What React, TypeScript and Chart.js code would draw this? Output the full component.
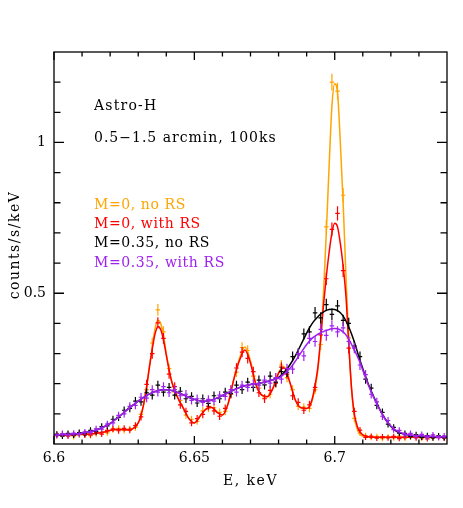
import React, { useEffect, useRef } from "react";
import { Chart, registerables } from "chart.js";

Chart.register(...registerables);

// ---------- data ----------
const MODEL_E = [
  6.600, 6.605, 6.610, 6.614, 6.618,
  6.620, 6.622, 6.624, 6.626, 6.628, 6.630,
  6.631, 6.632, 6.633, 6.634, 6.635, 6.636, 6.637, 6.638, 6.639, 6.640, 6.641,
  6.642, 6.644, 6.646, 6.648, 6.650, 6.652, 6.654, 6.656, 6.658, 6.660, 6.662, 6.664, 6.666, 6.668, 6.670, 6.672, 6.674, 6.676, 6.678, 6.680, 6.682, 6.684, 6.686, 6.688, 6.690,
  6.691, 6.692, 6.693, 6.694, 6.695, 6.696, 6.697, 6.698, 6.699, 6.700, 6.701, 6.702, 6.703, 6.704, 6.705, 6.706, 6.707, 6.708, 6.709, 6.710,
  6.712, 6.714, 6.716, 6.718, 6.720, 6.722,
  6.725, 6.730, 6.735, 6.740,
];

const ORANGE_MODEL = [
  0.030, 0.030, 0.032, 0.034, 0.040,
  0.045, 0.048, 0.048, 0.047, 0.050, 0.070,
  0.095, 0.135, 0.190, 0.258, 0.322, 0.382, 0.410, 0.400, 0.360, 0.300, 0.248,
  0.205, 0.155, 0.120, 0.085, 0.070, 0.092, 0.115, 0.122, 0.106, 0.096, 0.133, 0.214, 0.282, 0.322, 0.275, 0.197, 0.162, 0.157, 0.185, 0.237, 0.256, 0.205, 0.145, 0.120, 0.118,
  0.122, 0.145, 0.185, 0.245, 0.345, 0.500, 0.700, 0.920, 1.120, 1.195, 1.165, 1.000, 0.800, 0.560, 0.340, 0.180, 0.090, 0.050, 0.032, 0.026,
  0.023, 0.022, 0.022, 0.022, 0.022, 0.022,
  0.022, 0.022, 0.022, 0.022,
];

const RED_MODEL = [
  0.030, 0.030, 0.032, 0.034, 0.040,
  0.045, 0.048, 0.048, 0.047, 0.050, 0.070,
  0.095, 0.135, 0.190, 0.255, 0.315, 0.365, 0.390, 0.380, 0.345, 0.295, 0.245,
  0.205, 0.155, 0.120, 0.085, 0.070, 0.092, 0.115, 0.122, 0.106, 0.096, 0.133, 0.212, 0.275, 0.312, 0.268, 0.195, 0.162, 0.157, 0.185, 0.235, 0.252, 0.205, 0.145, 0.120, 0.118,
  0.125, 0.150, 0.195, 0.255, 0.350, 0.460, 0.555, 0.635, 0.700, 0.732, 0.720, 0.665, 0.590, 0.490, 0.330, 0.185, 0.100, 0.060, 0.040, 0.030,
  0.024, 0.022, 0.022, 0.022, 0.022, 0.022,
  0.022, 0.022, 0.022, 0.022,
];

const BLACK_MODEL = [
  0.030, 0.032, 0.036, 0.043, 0.058,
  0.068, 0.082, 0.097, 0.113, 0.128, 0.142,
  0.149, 0.155, 0.161, 0.166, 0.170, 0.174, 0.177, 0.179, 0.180, 0.180, 0.179,
  0.177, 0.171, 0.163, 0.155, 0.148, 0.143, 0.142, 0.145, 0.152, 0.161, 0.170, 0.179, 0.187, 0.193, 0.197, 0.200, 0.203, 0.207, 0.213, 0.221, 0.238, 0.262, 0.293, 0.330, 0.368,
  0.385, 0.400, 0.412, 0.422, 0.431, 0.438, 0.443, 0.446, 0.447, 0.446, 0.442, 0.435, 0.424, 0.408, 0.388, 0.365, 0.338, 0.308, 0.278, 0.250,
  0.198, 0.155, 0.116, 0.083, 0.058, 0.042,
  0.032, 0.026, 0.024, 0.023,
];

const PURPLE_MODEL = [
  0.030, 0.032, 0.036, 0.043, 0.058,
  0.068, 0.082, 0.097, 0.113, 0.128, 0.142,
  0.149, 0.155, 0.161, 0.166, 0.170, 0.174, 0.177, 0.179, 0.180, 0.180, 0.179,
  0.177, 0.171, 0.163, 0.155, 0.148, 0.143, 0.142, 0.145, 0.152, 0.161, 0.170, 0.179, 0.187, 0.193, 0.197, 0.200, 0.203, 0.207, 0.213, 0.218, 0.232, 0.250, 0.275, 0.303, 0.330,
  0.341, 0.351, 0.358, 0.364, 0.369, 0.373, 0.377, 0.380, 0.382, 0.383, 0.382, 0.378, 0.372, 0.362, 0.348, 0.330, 0.312, 0.292, 0.270, 0.245,
  0.195, 0.152, 0.114, 0.082, 0.060, 0.044,
  0.033, 0.027, 0.025, 0.024,
];

const DATA_E = [
  6.601, 6.603, 6.605, 6.607, 6.609, 6.611, 6.613, 6.615, 6.617, 6.619,
  6.621, 6.623, 6.625, 6.627, 6.629, 6.631, 6.633, 6.635, 6.637, 6.639,
  6.641, 6.643, 6.645, 6.647, 6.649, 6.651, 6.653, 6.655, 6.657, 6.659,
  6.661, 6.663, 6.665, 6.667, 6.669, 6.671, 6.673, 6.675, 6.677, 6.679,
  6.681, 6.683, 6.685, 6.687, 6.689, 6.691, 6.693, 6.695, 6.697, 6.699,
  6.701, 6.703, 6.705, 6.707, 6.709, 6.711, 6.713, 6.715, 6.717, 6.719,
  6.721, 6.723, 6.725, 6.727, 6.729, 6.731, 6.733, 6.735, 6.737, 6.739,
];

const ORANGE_DATA = [
  0.032, 0.027, 0.033, 0.024, 0.030, 0.036, 0.028, 0.034, 0.040, 0.037,
  0.048, 0.052, 0.045, 0.050, 0.055, 0.098, 0.180, 0.335, 0.445, 0.372,
  0.250, 0.172, 0.145, 0.096, 0.082, 0.075, 0.110, 0.118, 0.120, 0.105,
  0.108, 0.180, 0.238, 0.320, 0.310, 0.225, 0.185, 0.152, 0.165, 0.218,
  0.262, 0.220, 0.180, 0.125, 0.122, 0.118, 0.180, 0.330, 0.720, 1.200,
  1.170, 0.825, 0.352, 0.085, 0.036, 0.028, 0.021, 0.025, 0.018, 0.023,
  0.020, 0.026, 0.019, 0.022, 0.024, 0.018, 0.023, 0.020, 0.026, 0.021,
];

const RED_DATA = [
  0.028, 0.034, 0.026, 0.031, 0.035, 0.029, 0.030, 0.038, 0.033, 0.045,
  0.050, 0.044, 0.052, 0.046, 0.061, 0.090, 0.198, 0.300, 0.402, 0.350,
  0.232, 0.190, 0.130, 0.108, 0.070, 0.084, 0.098, 0.125, 0.110, 0.092,
  0.118, 0.165, 0.252, 0.305, 0.284, 0.240, 0.170, 0.150, 0.178, 0.202,
  0.255, 0.232, 0.160, 0.138, 0.112, 0.130, 0.188, 0.362, 0.548, 0.712,
  0.765, 0.575, 0.318, 0.108, 0.046, 0.022, 0.026, 0.019, 0.024, 0.020,
  0.025, 0.018, 0.023, 0.027, 0.020, 0.022, 0.017, 0.025, 0.021, 0.019,
];

const BLACK_DATA = [
  0.033, 0.026, 0.035, 0.029, 0.038, 0.034, 0.045, 0.042, 0.058, 0.060,
  0.082, 0.088, 0.112, 0.118, 0.142, 0.140, 0.170, 0.162, 0.195, 0.172,
  0.188, 0.162, 0.175, 0.150, 0.158, 0.136, 0.150, 0.135, 0.160, 0.150,
  0.172, 0.168, 0.195, 0.180, 0.205, 0.188, 0.212, 0.196, 0.225, 0.205,
  0.240, 0.238, 0.290, 0.300, 0.365, 0.372, 0.435, 0.418, 0.462, 0.430,
  0.458, 0.410, 0.400, 0.325, 0.290, 0.215, 0.185, 0.128, 0.105, 0.066,
  0.055, 0.036, 0.035, 0.025, 0.031, 0.022, 0.028, 0.020, 0.027, 0.021,
];

const PURPLE_DATA = [
  0.029, 0.034, 0.030, 0.036, 0.032, 0.040, 0.038, 0.050, 0.049, 0.066,
  0.070, 0.095, 0.100, 0.125, 0.128, 0.155, 0.152, 0.180, 0.172, 0.190,
  0.170, 0.180, 0.160, 0.165, 0.145, 0.150, 0.138, 0.148, 0.142, 0.162,
  0.158, 0.180, 0.172, 0.195, 0.188, 0.200, 0.195, 0.212, 0.202, 0.220,
  0.215, 0.250, 0.248, 0.300, 0.292, 0.350, 0.340, 0.380, 0.360, 0.392,
  0.372, 0.385, 0.340, 0.318, 0.262, 0.230, 0.165, 0.140, 0.092, 0.078,
  0.048, 0.045, 0.030, 0.035, 0.024, 0.032, 0.022, 0.030, 0.021, 0.027,
];

const BIN_HALF = 0.001;

const SERIES_NAMES = ["M=0, no RS", "M=0, with RS", "M=0.35, no RS", "M=0.35, with RS"];
const SERIES_COLORS = ["#ffa500", "#ff0000", "#000000", "#a020f0"];
const MODELS = [ORANGE_MODEL, RED_MODEL, BLACK_MODEL, PURPLE_MODEL];
const DATAS = [ORANGE_DATA, RED_DATA, BLACK_DATA, PURPLE_DATA];

const X_MAJOR = [6.6, 6.65, 6.7];
const X_LABELS = ["6.6", "6.65", "6.7"];
const X_MINOR = [6.61, 6.62, 6.63, 6.64, 6.66, 6.67, 6.68, 6.69, 6.71, 6.72, 6.73];
const Y_MAJOR = [0.5, 1];
const Y_LABELS = ["0.5", "1"];
const Y_MINOR = [0.1, 0.2, 0.3, 0.4, 0.6, 0.7, 0.8, 0.9, 1.1, 1.2];

const NOTES = ["Astro-H", "0.5\u22121.5 arcmin, 100ks"];
const X_TITLE = "E, keV";
const Y_TITLE = "counts/s/keV";

const FONT = '"DejaVu Serif", serif';

function errorOf(v: number) {
  return 0.006 + 0.02 * Math.sqrt(Math.max(v, 0));
}

const crossPlugin = {
  id: "crosses",
  afterDatasetDraw(chart: any, args: any) {
    const ds = chart.data.datasets[args.index];
    if (!ds || ds.kind !== "data") return;
    const { ctx, chartArea } = chart;
    const xs = chart.scales.x;
    const ys = chart.scales.y;
    ctx.save();
    ctx.beginPath();
    ctx.rect(chartArea.left, chartArea.top, chartArea.right - chartArea.left, chartArea.bottom - chartArea.top);
    ctx.clip();
    ctx.strokeStyle = ds.borderColor;
    ctx.lineWidth = 1.2;
    ctx.beginPath();
    ds.data.forEach((p: any) => {
      const e = errorOf(p.y);
      const x = xs.getPixelForValue(p.x);
      const xl = xs.getPixelForValue(p.x - BIN_HALF * 0.8);
      const xr = xs.getPixelForValue(p.x + BIN_HALF * 0.8);
      const y = ys.getPixelForValue(p.y);
      const yt = ys.getPixelForValue(p.y + e);
      const yb = ys.getPixelForValue(p.y - e);
      ctx.moveTo(xl, y);
      ctx.lineTo(xr, y);
      ctx.moveTo(x, yt);
      ctx.lineTo(x, yb);
    });
    ctx.stroke();
    ctx.restore();
  },
};

const framePlugin = {
  id: "frame",
  afterDraw(chart: any) {
    const { ctx, chartArea } = chart;
    const { left, right, top, bottom } = chartArea;
    const xs = chart.scales.x;
    const ys = chart.scales.y;
    ctx.save();
    ctx.strokeStyle = "#000";
    ctx.lineWidth = 1.3;
    ctx.strokeRect(left, top, right - left, bottom - top);
    ctx.beginPath();
    const xt = (vals: number[], len: number) => {
      vals.forEach((v) => {
        const x = xs.getPixelForValue(v);
        ctx.moveTo(x, bottom);
        ctx.lineTo(x, bottom - len);
        ctx.moveTo(x, top);
        ctx.lineTo(x, top + len);
      });
    };
    const yt = (vals: number[], len: number) => {
      vals.forEach((v) => {
        const y = ys.getPixelForValue(v);
        ctx.moveTo(left, y);
        ctx.lineTo(left + len, y);
        ctx.moveTo(right, y);
        ctx.lineTo(right - len, y);
      });
    };
    xt(X_MAJOR, 8);
    xt(X_MINOR, 4.5);
    yt(Y_MAJOR, 10);
    yt(Y_MINOR, 6.5);
    ctx.stroke();

    ctx.fillStyle = "#000";
    ctx.font = `14px ${FONT}`;
    (ctx as any).letterSpacing = "1.2px";
    ctx.textBaseline = "middle";
    ctx.textAlign = "left";
    ctx.fillText(NOTES[0], left + 40, top + 54);
    (ctx as any).letterSpacing = "1px";
    ctx.fillText(NOTES[1], left + 40, top + 86);
    (ctx as any).letterSpacing = "0.6px";
    SERIES_NAMES.forEach((name, i) => {
      ctx.fillStyle = SERIES_COLORS[i];
      ctx.fillText(name, left + 40, top + 153 + i * 19.3);
    });

    ctx.fillStyle = "#000";
    (ctx as any).letterSpacing = "1.5px";
    ctx.textAlign = "center";
    ctx.fillText(X_TITLE, (left + right) / 2, bottom + 37);
    ctx.save();
    ctx.translate(15, (top + bottom) / 2 - 3);
    ctx.rotate(-Math.PI / 2);
    ctx.fillText(Y_TITLE, 0, 0);
    ctx.restore();
    ctx.restore();
  },
};

export default function App() {
  const ref = useRef<HTMLCanvasElement | null>(null);
  useEffect(() => {
    if (!ref.current) return;
    const datasets: any[] = [];
    const n = SERIES_NAMES.length;
    for (let i = 0; i < n; i++) {
      const layer = (n - 1 - i) * 2;
      datasets.push({
        label: SERIES_NAMES[i] + " data",
        kind: "data",
        data: DATA_E.map((e, k) => ({ x: e, y: DATAS[i][k] })),
        borderColor: SERIES_COLORS[i],
        backgroundColor: SERIES_COLORS[i],
        showLine: false,
        pointRadius: 0,
        order: layer + 1,
      });
      datasets.push({
        label: SERIES_NAMES[i],
        kind: "model",
        data: MODEL_E.map((e, k) => ({ x: e, y: MODELS[i][k] })),
        borderColor: SERIES_COLORS[i],
        backgroundColor: SERIES_COLORS[i],
        showLine: true,
        borderWidth: 1.5,
        pointRadius: 0,
        cubicInterpolationMode: "monotone",
        order: layer,
      });
    }
    const chart = new Chart(ref.current, {
      type: "scatter",
      data: { datasets },
      options: {
        responsive: false,
        animation: false,
        events: [],
        layout: { padding: { top: 52, right: 16, left: 0, bottom: 0 } },
        plugins: {
          legend: { display: false },
          tooltip: { enabled: false },
          title: { display: false },
        },
        scales: {
          x: {
            type: "linear",
            min: 6.6,
            max: 6.74,
            grid: { display: false, drawTicks: false },
            border: { display: false },
            afterBuildTicks: (axis: any) => {
              axis.ticks = X_MAJOR.map((v) => ({ value: v }));
            },
            afterFit: (axis: any) => {
              axis.height = 64;
            },
            ticks: {
              autoSkip: false,
              maxRotation: 0,
              padding: 6,
              color: "#000",
              font: { family: FONT, size: 14 },
              callback: (v: any) => {
                const idx = X_MAJOR.findIndex((m) => Math.abs(m - Number(v)) < 1e-9);
                return idx >= 0 ? X_LABELS[idx] : "";
              },
            },
          },
          y: {
            type: "linear",
            min: 0,
            max: 1.3,
            grid: { display: false, drawTicks: false },
            border: { display: false },
            afterBuildTicks: (axis: any) => {
              axis.ticks = Y_MAJOR.map((v) => ({ value: v }));
            },
            afterFit: (axis: any) => {
              axis.width = 54;
            },
            ticks: {
              autoSkip: false,
              padding: 8,
              color: "#000",
              font: { family: FONT, size: 14 },
              callback: (v: any) => {
                const idx = Y_MAJOR.findIndex((m) => Math.abs(m - Number(v)) < 1e-9);
                return idx >= 0 ? Y_LABELS[idx] : "";
              },
            },
          },
        },
      } as any,
      plugins: [crossPlugin, framePlugin],
    });
    return () => chart.destroy();
  }, []);
  return (
    <div style={{ position: "fixed", left: 0, top: 0, width: 463, height: 508, background: "#fff" }}>
      <canvas ref={ref} width={463} height={508} style={{ width: 463, height: 508 }} />
    </div>
  );
}
